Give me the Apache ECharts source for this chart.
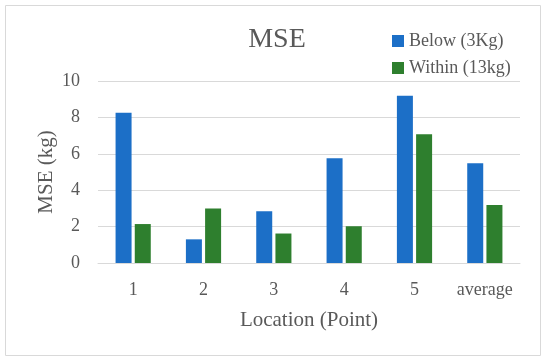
<!DOCTYPE html>
<html><head><meta charset="utf-8">
<script src="https://cdn.jsdelivr.net/npm/echarts@6/dist/echarts.min.js"></script>
<style>html,body{margin:0;padding:0;background:#fff}#c{width:550px;height:363px}</style>
</head><body><div id="c"></div>
<script>
const categories = ['1', '2', '3', '4', '5', 'average'];
const belowValues = [8.26, 1.30, 2.84, 5.75, 9.19, 5.48];
const withinValues = [2.14, 3.00, 1.62, 2.02, 7.07, 3.19];
const seriesNames = ['Below (3Kg)', 'Within (13kg)'];
const yTicks = { min: 0, max: 10, interval: 2 };

const FONT = '"Liberation Serif", "DejaVu Serif", serif';
const TXT = '#595959';
const chart = echarts.init(document.getElementById('c'));
chart.setOption({
  animation: false,
  title: { text: 'MSE', left: 272, top: 21, textAlign: 'center',
    textStyle: { fontFamily: FONT, fontSize: 28, fontWeight: 'normal', color: TXT } },
  legend: { orient: 'vertical', left: 387, top: 27, itemWidth: 12, itemHeight: 12, itemGap: 9,
    icon: 'rect', textStyle: { fontFamily: FONT, fontSize: 18, color: TXT } },
  graphic: [{ type: 'rect', shape: { x: 5.5, y: 5.5, width: 535, height: 350 },
    style: { fill: 'none', stroke: '#d9d9d9', lineWidth: 1 }, silent: true }],
  grid: { left: 98, right: 30, top: 81, bottom: 100 },
  xAxis: { type: 'category', data: categories, name: 'Location (Point)', nameLocation: 'middle', nameGap: 47,
    nameMoveOverlap: false,
    nameTextStyle: { fontFamily: FONT, fontSize: 21, color: TXT },
    axisLine: { lineStyle: { color: '#d9d9d9' } }, axisTick: { show: false },
    axisLabel: { fontFamily: FONT, fontSize: 18, color: TXT, margin: 18, interval: 0 } },
  yAxis: { type: 'value', min: yTicks.min, max: yTicks.max, interval: yTicks.interval,
    name: 'MSE (kg)', nameLocation: 'middle', nameGap: 41, nameMoveOverlap: false,
    nameTextStyle: { fontFamily: FONT, fontSize: 21, color: TXT },
    splitLine: { lineStyle: { color: '#d9d9d9' } },
    axisLabel: { fontFamily: FONT, fontSize: 18, color: TXT, margin: 18 } },
  series: [
    { name: seriesNames[0], type: 'bar', data: belowValues, barWidth: 16, barGap: '20%', itemStyle: { color: '#1c6fc7' } },
    { name: seriesNames[1], type: 'bar', data: withinValues, barWidth: 16, itemStyle: { color: '#2e7f2e' } }
  ]
});
</script></body></html>
